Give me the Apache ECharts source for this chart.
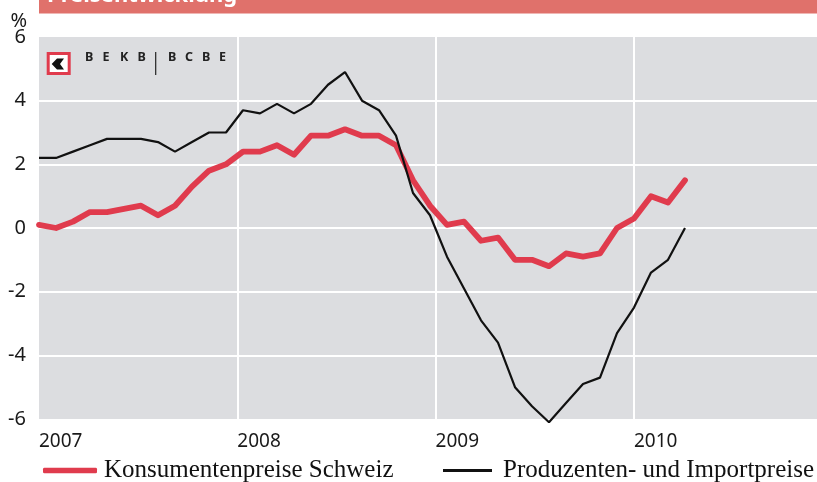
<!DOCTYPE html>
<html>
<head>
<meta charset="utf-8">
<script src="https://cdn.jsdelivr.net/npm/echarts@6/dist/echarts.min.js"></script>
<style>
  html, body { margin: 0; padding: 0; background: #fff; }
  #chart { width: 817px; height: 482px; }
</style>
</head>
<body>
<div id="chart"></div>
<script>
// monthly points, Jan 2007 .. Mar 2010
var months = [
  '2007-01','2007-02','2007-03','2007-04','2007-05','2007-06','2007-07','2007-08','2007-09','2007-10','2007-11','2007-12',
  '2008-01','2008-02','2008-03','2008-04','2008-05','2008-06','2008-07','2008-08','2008-09','2008-10','2008-11','2008-12',
  '2009-01','2009-02','2009-03','2009-04','2009-05','2009-06','2009-07','2009-08','2009-09','2009-10','2009-11','2009-12',
  '2010-01','2010-02','2010-03'
];
var konsumentenpreise = [
  0.1, 0.0, 0.2, 0.5, 0.5, 0.6, 0.7, 0.4, 0.7, 1.3, 1.8, 2.0,
  2.4, 2.4, 2.6, 2.3, 2.9, 2.9, 3.1, 2.9, 2.9, 2.6, 1.5, 0.7,
  0.1, 0.2, -0.4, -0.3, -1.0, -1.0, -1.2, -0.8, -0.9, -0.8, 0.0, 0.3,
  1.0, 0.8, 1.5
];
var produzentenpreise = [
  2.2, 2.2, 2.4, 2.6, 2.8, 2.8, 2.8, 2.7, 2.4, 2.7, 3.0, 3.0,
  3.7, 3.6, 3.9, 3.6, 3.9, 4.5, 4.9, 4.0, 3.7, 2.9, 1.1, 0.4,
  -0.9, -1.9, -2.9, -3.6, -5.0, -5.6, -6.1, -5.5, -4.9, -4.7, -3.3, -2.5,
  -1.4, -1.0, 0.0
];
var yearLabels = ['2007', '2008', '2009', '2010'];
var seriesNames = ['Konsumentenpreise Schweiz', 'Produzenten- und Importpreise'];

var red = '#e03b4d';
var gridW = 778;

var chart = echarts.init(document.getElementById('chart'), null, { renderer: 'canvas' });

// bank logo letters, spaced out
var logoLetters = [];
['B', 'E', 'K', 'B'].forEach(function (c, i) {
  logoLetters.push({ type: 'text', z: 100, x: 85 + i * 17.5, y: 57, style: { text: c, font: 'bold 12.5px "Noto Sans"', fill: '#222', verticalAlign: 'middle' } });
});
['B', 'C', 'B', 'E'].forEach(function (c, i) {
  logoLetters.push({ type: 'text', z: 100, x: 168 + i * 17, y: 57, style: { text: c, font: 'bold 12.5px "Noto Sans"', fill: '#222', verticalAlign: 'middle' } });
});

var option = {
  animation: false,
  backgroundColor: '#fff',
  grid: { left: 39, right: 0, top: 37, bottom: 63 },
  xAxis: [{
    type: 'value',
    min: 0,
    max: gridW / 17,
    show: false
  }, {
    type: 'value',
    position: 'bottom',
    min: 2007,
    max: 2007 + gridW / 198.3,
    interval: 1,
    axisLine: { show: false },
    axisTick: { show: false },
    axisLabel: {
      align: 'left',
      margin: 13,
      fontSize: 19,
      fontFamily: 'Noto Sans',
      color: '#1a1a1a',
      showMaxLabel: false,
      formatter: function (v) { return yearLabels[v - 2007] || ''; }
    },
    splitLine: { show: true, showMinLine: false, showMaxLine: false, lineStyle: { color: '#fff', width: 2 } }
  }],
  yAxis: {
    type: 'value',
    min: -6,
    max: 6,
    interval: 2,
    axisLine: { show: false },
    axisTick: { show: false },
    axisLabel: { margin: 13, fontSize: 20, fontFamily: 'Noto Sans', color: '#1a1a1a' },
    splitLine: { show: true, showMinLine: false, showMaxLine: false, lineStyle: { color: '#fff', width: 2 } },
    splitArea: { show: true, areaStyle: { color: ['#dcdde0'] } }
  },
  legend: [{
    data: [{ name: seriesNames[0], icon: 'roundRect' }],
    left: 43,
    top: 458,
    padding: 0,
    itemWidth: 54,
    itemHeight: 5.5,
    textStyle: { fontFamily: 'Liberation Serif', fontSize: 25, color: '#111', padding: [0, 0, 0, 2] }
  }, {
    data: [{ name: seriesNames[1], icon: 'rect' }],
    left: 443,
    top: 458,
    padding: 0,
    itemWidth: 49,
    itemHeight: 3,
    textStyle: { fontFamily: 'Liberation Serif', fontSize: 25, color: '#111', padding: [0, 0, 0, 6] }
  }],
  graphic: [
    { type: 'rect', z: 100, shape: { x: 39, y: -2, width: gridW, height: 15.5 }, style: { fill: '#e0716b' } },
    { type: 'text', z: 101, x: 47, y: 7, style: { text: 'Preisentwicklung', font: 'bold 22px "Noto Sans"', fill: '#fff', verticalAlign: 'bottom' } },
    { type: 'text', z: 100, x: 27, y: 21, style: { text: '%', font: '20px "Noto Sans"', fill: '#1a1a1a', align: 'right', verticalAlign: 'middle' } },
    { type: 'rect', z: 100, shape: { x: 48.2, y: 53.5, width: 21, height: 20 }, style: { fill: '#fff', stroke: red, lineWidth: 3 } },
    { type: 'polygon', z: 101, shape: { points: [[51.7, 64], [57, 58.5], [64, 58.5], [60, 64], [64, 69.5], [57, 69.5]] }, style: { fill: '#111' } },
    { type: 'line', z: 100, shape: { x1: 155.7, y1: 52, x2: 155.7, y2: 75 }, style: { stroke: '#222', lineWidth: 1.2 } }
  ].concat(logoLetters),
  series: [{
    name: seriesNames[0],
    type: 'line',
    xAxisIndex: 0,
    data: konsumentenpreise.map(function (v, i) { return [i, v]; }),
    symbol: 'none',
    clip: false,
    itemStyle: { color: red },
    lineStyle: { color: red, width: 5.8, cap: 'round', join: 'round' }
  }, {
    name: seriesNames[1],
    type: 'line',
    xAxisIndex: 0,
    data: produzentenpreise.map(function (v, i) { return [i, v]; }),
    symbol: 'none',
    clip: false,
    itemStyle: { color: '#111' },
    lineStyle: { color: '#111', width: 2.2 }
  }]
};

chart.setOption(option);
</script>
</body>
</html>
